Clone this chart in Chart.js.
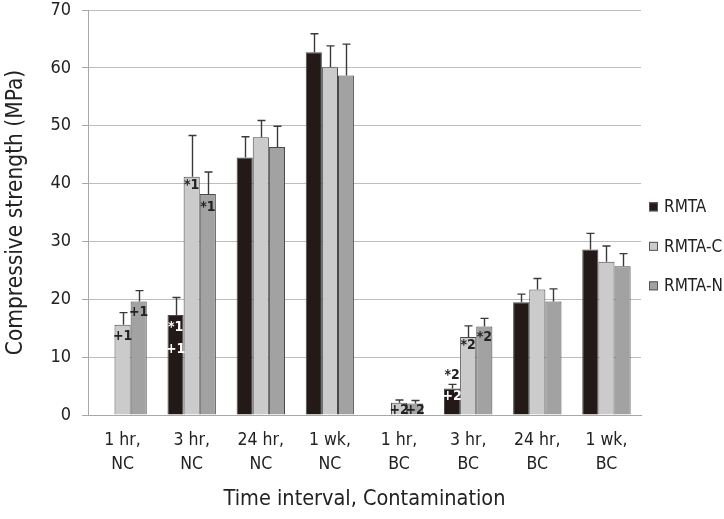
<!DOCTYPE html>
<html>
<head>
<meta charset="utf-8">
<script src="https://cdn.jsdelivr.net/npm/chart.js@4.4.1/dist/chart.umd.min.js"></script>
<style>
  html, body { margin: 0; padding: 0; background: #ffffff; }
  #wrap { width: 724px; height: 519px; }
</style>
</head>
<body>
<div id="wrap"><canvas id="c" width="724" height="519"></canvas></div>
<script>
// ---- data ----
const categories = [["1 hr,", "NC"], ["3 hr,", "NC"], ["24 hr,", "NC"], ["1 wk,", "NC"],
                    ["1 hr,", "BC"], ["3 hr,", "BC"], ["24 hr,", "BC"], ["1 wk,", "BC"]];
const seriesLabels = ["RMTA", "RMTA-C", "RMTA-N"];
const rmta     = [null, 17.3, 44.5, 62.7, null, 4.6, 19.5, 28.6];
const rmtaErr  = [null, 3.0, 3.6, 3.2, null, 0.7, 1.4, 2.8];
const rmtaC    = [15.6, 41.2, 48.0, 60.1, 2.1, 13.5, 21.7, 26.5];
const rmtaCErr = [2.1, 7.1, 2.9, 3.7, 0.5, 1.9, 1.9, 2.7];
const rmtaN    = [19.6, 38.2, 46.3, 58.7, 2.0, 15.3, 19.6, 25.7];
const rmtaNErr = [1.9, 3.8, 3.6, 5.4, 0.5, 1.4, 2.2, 2.2];
const yTicks = [0, 10, 20, 30, 40, 50, 60, 70];

// significance marks: [category index, series index, text]
const marks = [
  [0, 1, "+1"], [0, 2, "+1"],
  [1, 0, "*1"], [1, 0, "+1"], [1, 1, "*1"], [1, 2, "*1"],
  [4, 1, "+2"], [4, 2, "+2"],
  [5, 0, "*2"], [5, 0, "+2"], [5, 1, "*2"], [5, 2, "*2"]
];
// styling of marks (offset from bar top, colour) kept separate from the data
const markStyle = [
  { dy: 12, color: "#222" }, { dy: 11, color: "#222" },
  { dy: 12, color: "#fff" }, { dy: 34, color: "#fff" }, { dy: 9, color: "#222" }, { dy: 13, color: "#222" },
  { base: -4, color: "#222" }, { base: -4, color: "#222" },
  { dy: -13, color: "#222" }, { dy: 8, color: "#fff" }, { dy: 8, color: "#222" }, { dy: 11, color: "#222" }
];

const FONT = "'Liberation Sans Narrow', 'DejaVu Sans Condensed', 'Roboto Condensed', sans-serif";
const fills = ["#231a18", "#cbcbcb", "#a2a2a2"];
const errs = [rmtaErr, rmtaCErr, rmtaNErr];

const errorBarPlugin = {
  id: "errorBars",
  afterDatasetsDraw(chart) {
    const ctx = chart.ctx;
    const y = chart.scales.y;
    ctx.save();
    ctx.strokeStyle = "#3a3a3a";
    ctx.lineWidth = 1.4;
    chart.data.datasets.forEach((ds, di) => {
      const meta = chart.getDatasetMeta(di);
      meta.data.forEach((bar, i) => {
        const v = ds.data[i];
        const e = errs[di][i];
        if (v == null || e == null) return;
        const yTop = y.getPixelForValue(v + e);
        const x = Math.round(bar.x) + 0.5;
        ctx.beginPath();
        ctx.moveTo(x, bar.y);
        ctx.lineTo(x, yTop);
        ctx.moveTo(x - 4, yTop);
        ctx.lineTo(x + 4, yTop);
        ctx.stroke();
      });
    });
    // significance marks
    ctx.font = "bold 14px " + FONT;
    ctx.textAlign = "center";
    ctx.textBaseline = "middle";
    marks.forEach((m, k) => {
      const [ci, si, txt] = m;
      const st = markStyle[k];
      const bar = chart.getDatasetMeta(si).data[ci];
      let yy;
      if (st.base !== undefined) yy = bar.base + st.base;
      else yy = bar.y + st.dy;
      ctx.fillStyle = st.color;
      ctx.fillText(txt, bar.x, yy);
    });
    ctx.restore();
  }
};

const legendPlugin = {
  id: "sideLegend",
  afterDraw(chart) {
    const ctx = chart.ctx;
    const a = chart.chartArea;
    ctx.save();
    ctx.font = "17px " + FONT;
    ctx.textBaseline = "middle";
    ctx.textAlign = "left";
    seriesLabels.forEach((lab, i) => {
      const cy = a.top + (a.bottom - a.top) * 0.486 + i * 39.5;
      const x = a.right + 8;
      ctx.fillStyle = fills[i];
      ctx.fillRect(x, cy - 4.5, 9, 9);
      ctx.strokeStyle = "#555";
      ctx.lineWidth = 1;
      ctx.strokeRect(x + 0.5, cy - 4, 8, 8);
      ctx.fillStyle = "#222";
      ctx.fillText(lab, x + 15, cy + 1);
    });
    ctx.restore();
  }
};

new Chart(document.getElementById("c"), {
  type: "bar",
  data: {
    labels: categories,
    datasets: [
      { label: seriesLabels[0], data: rmta, backgroundColor: fills[0] },
      { label: seriesLabels[1], data: rmtaC, backgroundColor: fills[1] },
      { label: seriesLabels[2], data: rmtaN, backgroundColor: fills[2] }
    ]
  },
  options: {
    responsive: false,
    animation: false,
    devicePixelRatio: 1,
    layout: { padding: { top: 10, right: 83, left: 0, bottom: 0 } },
    datasets: {
      bar: {
        categoryPercentage: 0.7,
        barPercentage: 1.0,
        borderColor: "#4a4a4a",
        borderWidth: 1,
        borderSkipped: "bottom"
      }
    },
    plugins: {
      legend: { display: false },
      tooltip: { enabled: false }
    },
    scales: {
      x: {
        grid: { display: false },
        border: { display: true, color: "#a8a8a8", width: 1 },
        ticks: {
          color: "#222",
          font: { family: FONT, size: 17.5, lineHeight: 1.38 },
          padding: 5,
          maxRotation: 0,
          autoSkip: false
        },
        title: {
          display: true,
          text: "Time interval, Contamination",
          color: "#222",
          font: { family: FONT, size: 21.5 },
          padding: { top: 0, bottom: 7 }
        },
        afterFit(s) { s.height = 104; s.paddingLeft = 0; s.paddingRight = 0; }
      },
      y: {
        min: 0,
        max: 70,
        afterBuildTicks(s) { s.ticks = yTicks.map(v => ({ value: v })); },
        grid: { color: "#bdbdbd", lineWidth: 1, tickLength: 6, tickColor: "#a8a8a8" },
        border: { display: true, color: "#a8a8a8", width: 1 },
        ticks: {
          color: "#222",
          font: { family: FONT, size: 18 },
          padding: 11
        },
        title: {
          display: true,
          text: "Compressive strength (MPa)",
          color: "#222",
          font: { family: FONT, size: 22.5 },
          padding: { top: 3, bottom: 0 }
        },
        afterFit(s) { s.width = 88; s.paddingTop = 0; s.paddingBottom = 0; }
      }
    }
  },
  plugins: [errorBarPlugin, legendPlugin]
});
</script>
</body>
</html>
